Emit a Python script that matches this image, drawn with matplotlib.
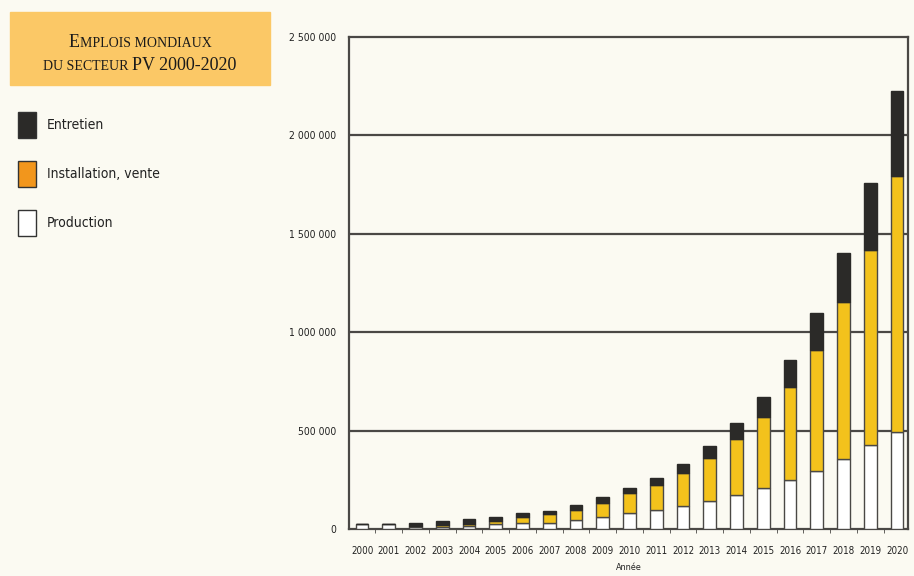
import matplotlib.pyplot as plt
from matplotlib.patches import Rectangle
from matplotlib.offsetbox import TextArea, HPacker, VPacker, AnnotationBbox
import numpy as np

# Donnees (nombre d'emplois)
annees = [str(a) for a in range(2000, 2021)]
production = [25000, 25000, 12000, 12000, 15000, 25000, 30000, 30000, 46000, 61000,
              81000, 96000, 117000, 142000, 173000, 208000, 249000, 294000, 355000, 426000, 492000]
installation = [0, 0, 5000, 8000, 10000, 16000, 31000, 46000, 50000, 71000,
                102000, 127000, 167000, 218000, 284000, 360000, 472000, 615000, 797000, 990000, 1300000]
entretien = [0, 0, 13000, 21000, 26000, 20000, 20000, 15000, 26000, 30000,
             25000, 36000, 46000, 61000, 81000, 102000, 137000, 187000, 249000, 340000, 431000]
yticks = [0, 500000, 1000000, 1500000, 2000000, 2500000]
ylabels = ['0', '500 000', '1 000 000', '1 500 000', '2 000 000', '2 500 000']

fond = '#fbfaf2'
jaune = '#f3c21c'
noir = '#2b2a28'
trait = '#4a4845'
police = dict(family='DejaVu Sans', stretch='condensed', color='#222')

fig = plt.figure(figsize=(9.14, 5.76), dpi=100, facecolor=fond)
ax = fig.add_axes([0.3818, 0.0816, 0.6116, 0.8542], facecolor=fond)

x = np.arange(len(annees))
prod = np.array(production)
inst = np.array(installation)
ax.bar(x, prod, 0.48, color='white', edgecolor=trait, lw=1, zorder=3)
ax.bar(x, inst, 0.48, bottom=prod, color=jaune, edgecolor=trait, lw=1, zorder=3)
ax.bar(x, entretien, 0.48, bottom=prod + inst, color=noir, edgecolor=noir, lw=1, zorder=3)

ax.set_xlim(-0.49, 20.41)
ax.set_ylim(0, 2500000)
ax.set_yticks(yticks)
ax.set_yticklabels(ylabels, fontsize=7.5, **police)
for y in yticks[1:-1]:
    ax.axhline(y, color=trait, lw=1.6, zorder=1)
ax.set_xticks(x)
ax.set_xticklabels(annees, fontsize=7, **police)
ax.set_xticks(x[:-1] + 0.5, minor=True)
ax.tick_params(axis='y', which='major', length=0, pad=9)
ax.tick_params(axis='x', which='major', length=0, pad=12)
ax.tick_params(axis='x', which='minor', length=3, color=trait)
for s in ax.spines.values():
    s.set_color(trait)
    s.set_linewidth(1.6)
ax.set_xlabel('Année', fontsize=6.5, labelpad=5, **police)

# Cartouche du titre
fig.patches.append(Rectangle((10 / 914, 1 - 85 / 576), 260 / 914, 73 / 576,
                             transform=fig.transFigure, color='#fbc866', zorder=0))
serif = 'Liberation Serif'
def morceau(t, s):
    return TextArea(t, textprops=dict(family=serif, fontsize=s, color='#1a1a1a'))
ligne1 = HPacker(children=[morceau('E', 13), morceau('MPLOIS MONDIAUX', 10)], pad=0, sep=0, align='baseline')
ligne2 = HPacker(children=[morceau('DU SECTEUR ', 10), morceau('PV 2000-2020', 13)], pad=0, sep=0, align='baseline')
bloc = VPacker(children=[ligne1, ligne2], pad=0, sep=4, align='center')
fig.add_artist(AnnotationBbox(bloc, (140 / 914, 1 - 54 / 576), xycoords='figure fraction',
                              frameon=False, box_alignment=(0.5, 0.5)))

# Legende
legende = [('Entretien', noir), ('Installation, vente', '#f2961c'), ('Production', 'white')]
for i, (nom, c) in enumerate(legende):
    y0 = 112 + i * 49
    fig.patches.append(Rectangle((18 / 914, 1 - (y0 + 26) / 576), 18 / 914, 26 / 576,
                                 transform=fig.transFigure, facecolor=c, edgecolor='#333', lw=1))
    fig.text(47 / 914, 1 - (y0 + 13) / 576, nom, fontsize=10, va='center', **police)

fig.savefig('out.png', dpi=100, facecolor=fond)
